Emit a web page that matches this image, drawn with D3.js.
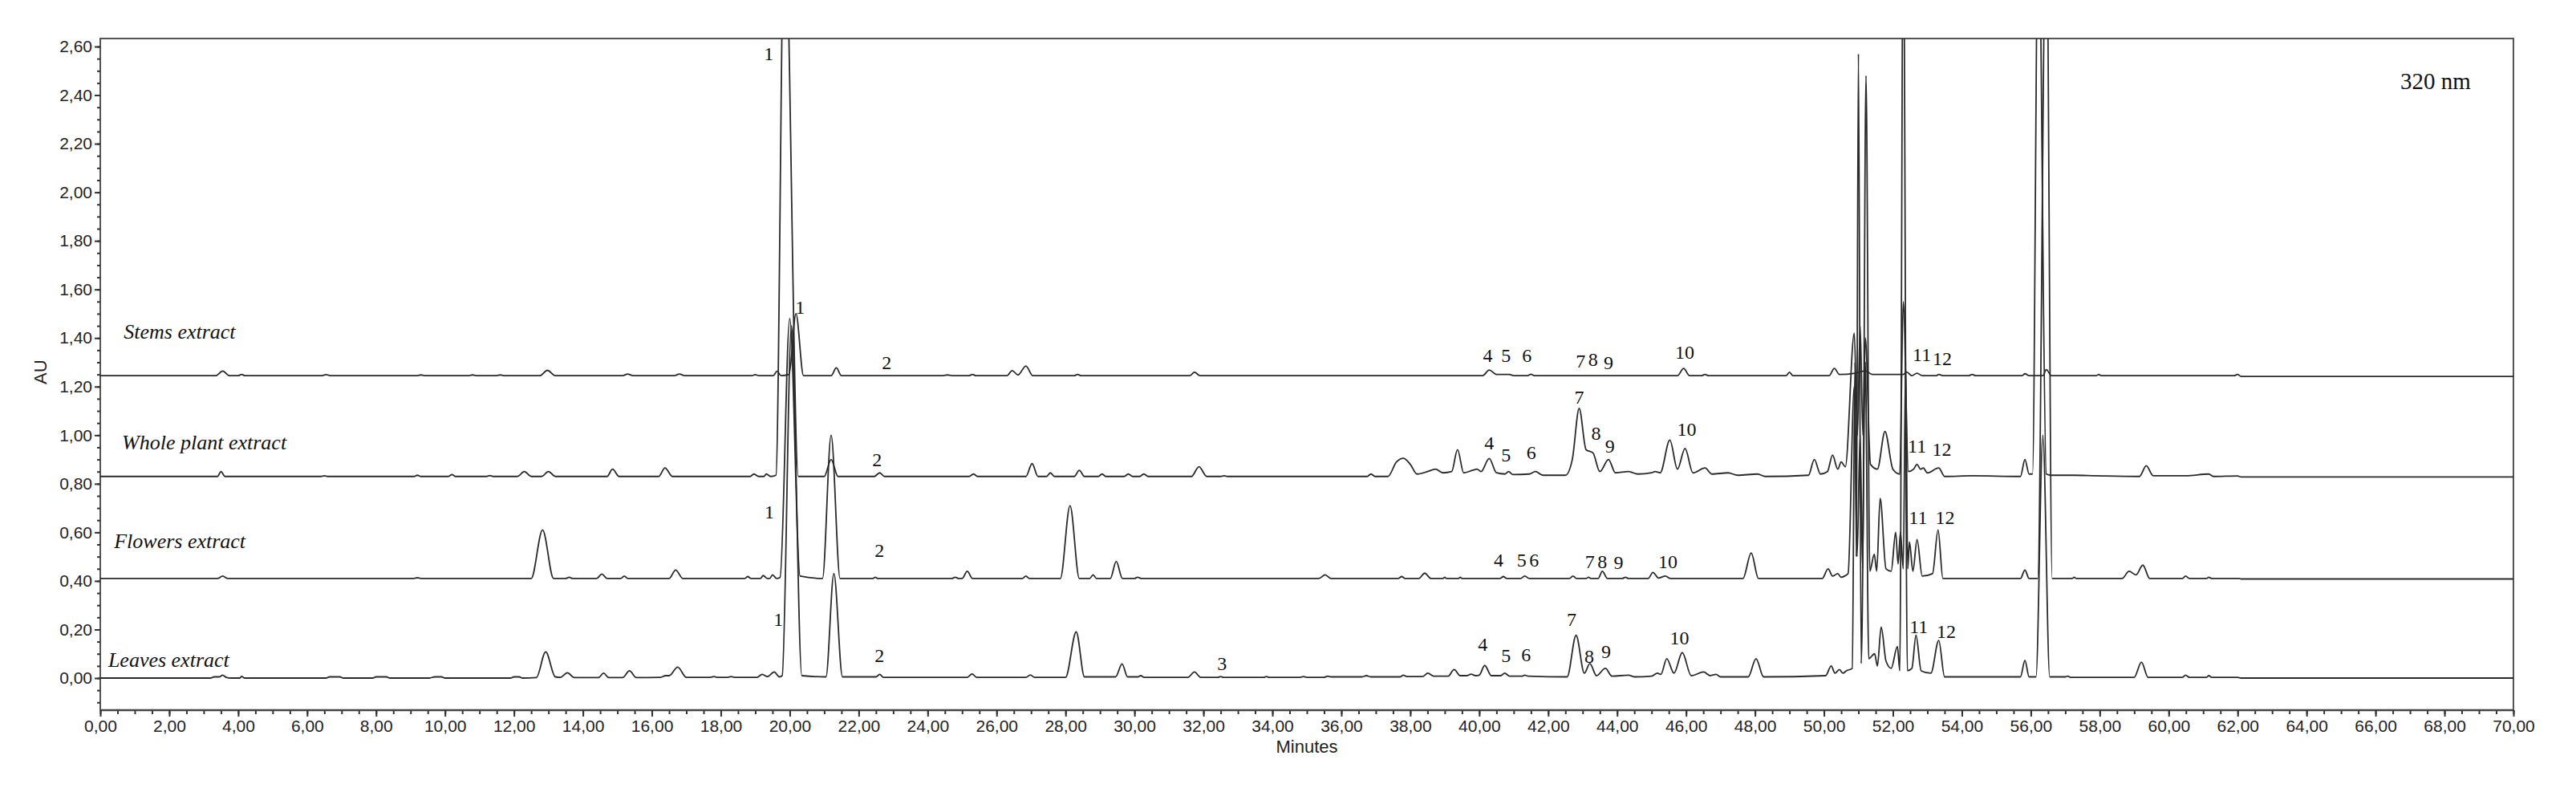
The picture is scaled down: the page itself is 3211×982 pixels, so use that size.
<!DOCTYPE html>
<html>
<head>
<meta charset="utf-8">
<script src="https://cdn.jsdelivr.net/npm/d3@7"></script>
<style>
  body { margin: 0; background: #fff; }
  .tick text { font-family: "Liberation Sans", Arial, sans-serif; font-size: 21px; fill: #222; }
  .tick line { stroke: #333; stroke-width: 2; }
  .domain { stroke: #444; stroke-width: 2.5; }
  .trace { fill: none; stroke: #2a2a2a; stroke-width: 1.8; stroke-linejoin: round; }
  .name { font-family: "Liberation Serif", "Times New Roman", serif; font-style: italic; font-size: 26px; fill: #111; }
  .pk { font-family: "Liberation Serif", "Times New Roman", serif; font-size: 24px; fill: #111; }
</style>
</head>
<body>
<div id="chart"></div>
<script>
// chromatogram traces, [minutes, AU]
var stemsTrace = [[0,1.245],[3.35,1.245],[3.55,1.264],[3.75,1.245],[4.0,1.245],[4.1,1.25],[4.2,1.245],[6.4,1.245],[6.55,1.249],[6.7,1.245],[9.2,1.245],[9.3,1.248],[9.4,1.245],[10.7,1.245],[10.8,1.248],[10.9,1.245],[11.5,1.245],[11.6,1.248],[11.7,1.245],[12.75,1.245],[12.97,1.267],[13.2,1.245],[15.15,1.245],[15.3,1.252],[15.45,1.245],[16.65,1.245],[16.8,1.252],[16.95,1.245],[18.9,1.245],[19.0,1.249],[19.1,1.245],[19.52,1.245],[19.63,1.263],[19.75,1.245],[19.98,1.25],[20.18,1.5],[20.4,1.245],[21.2,1.245],[21.35,1.277],[21.5,1.245],[24.45,1.245],[24.57,1.248],[24.7,1.245],[25.2,1.245],[25.3,1.25],[25.4,1.245],[26.3,1.245],[26.45,1.266],[26.62,1.248],[26.85,1.285],[27.05,1.245],[28.25,1.245],[28.35,1.25],[28.45,1.245],[31.6,1.245],[31.74,1.259],[31.9,1.245],[40.1,1.245],[40.29,1.268],[40.5,1.25],[40.87,1.25],[41.0,1.245],[41.4,1.245],[41.5,1.251],[41.6,1.245],[45.75,1.245],[45.93,1.275],[46.1,1.245],[46.45,1.245],[46.55,1.25],[46.65,1.245],[48.9,1.245],[49.0,1.259],[49.1,1.245],[50.15,1.245],[50.3,1.275],[50.45,1.25],[50.9,1.255],[51.2,1.265],[51.4,1.25],[52.3,1.25],[52.4,1.26],[52.55,1.245],[52.7,1.255],[52.85,1.245],[53.25,1.245],[53.33,1.25],[53.45,1.245],[54.2,1.245],[54.3,1.25],[54.4,1.245],[55.75,1.245],[55.83,1.253],[55.95,1.245],[56.35,1.245],[56.45,1.27],[56.6,1.245],[57.9,1.245],[57.97,1.25],[58.05,1.245],[61.9,1.245],[62.0,1.25],[62.1,1.242],[70,1.242]];

var wholeTrace = [[0,0.83],[3.4,0.83],[3.5,0.85],[3.62,0.83],[6.4,0.83],[6.5,0.833],[6.6,0.83],[9.1,0.83],[9.2,0.835],[9.3,0.83],[10.1,0.83],[10.2,0.838],[10.3,0.83],[11.2,0.83],[11.3,0.834],[11.4,0.83],[12.1,0.83],[12.3,0.85],[12.5,0.83],[12.8,0.83],[13.0,0.85],[13.2,0.83],[14.7,0.83],[14.86,0.86],[15.05,0.83],[16.2,0.83],[16.38,0.865],[16.6,0.83],[18.85,0.83],[18.96,0.84],[19.1,0.83],[19.25,0.83],[19.32,0.84],[19.45,0.83],[19.6,0.835],[19.85,3.2],[20.25,0.83],[21.0,0.83],[21.2,0.9],[21.4,0.83],[22.45,0.83],[22.61,0.845],[22.75,0.83],[25.2,0.83],[25.33,0.84],[25.45,0.83],[26.85,0.83],[27.03,0.883],[27.2,0.83],[27.45,0.83],[27.56,0.845],[27.68,0.83],[28.25,0.83],[28.4,0.855],[28.55,0.83],[28.95,0.83],[29.06,0.84],[29.17,0.83],[29.7,0.83],[29.82,0.84],[29.95,0.83],[30.15,0.83],[30.27,0.84],[30.4,0.83],[31.65,0.83],[31.87,0.87],[32.1,0.83],[32.5,0.83],[32.6,0.833],[32.7,0.83],[36.75,0.83],[36.86,0.84],[36.98,0.83],[37.35,0.83],[37.6,0.89],[37.8,0.905],[38.0,0.88],[38.2,0.84],[38.5,0.85],[38.73,0.86],[38.95,0.845],[39.2,0.85],[39.37,0.94],[39.55,0.845],[39.8,0.855],[39.94,0.86],[40.05,0.85],[40.29,0.904],[40.5,0.845],[40.75,0.84],[40.85,0.85],[40.98,0.838],[41.45,0.84],[41.63,0.85],[41.85,0.835],[42.5,0.835],[42.7,0.9],[42.9,1.11],[43.1,0.94],[43.3,0.927],[43.5,0.85],[43.75,0.9],[43.95,0.845],[44.33,0.85],[44.6,0.84],[45.0,0.845],[45.1,0.85],[45.25,0.845],[45.53,0.98],[45.75,0.86],[45.97,0.945],[46.2,0.845],[46.55,0.865],[46.75,0.84],[47.22,0.845],[47.5,0.835],[48.07,0.84],[48.3,0.83],[49.55,0.835],[49.72,0.9],[49.9,0.84],[50.1,0.85],[50.25,0.918],[50.4,0.86],[50.5,0.89],[50.62,0.87],[50.88,1.42],[50.97,1.0],[51.05,1.45],[51.13,1.0],[51.2,1.4],[51.35,0.88],[51.55,0.86],[51.77,1.015],[52.0,0.86],[52.2,0.84],[52.3,1.55],[52.45,0.85],[52.6,0.86],[52.7,0.88],[52.8,0.86],[52.88,0.865],[53.0,0.845],[53.33,0.865],[53.5,0.83],[54.3,0.833],[55.7,0.83],[55.83,0.9],[55.95,0.84],[56.05,0.84],[56.22,3.2],[56.45,0.84],[56.6,0.835],[57.26,0.835],[57.88,0.833],[59.15,0.83],[59.35,0.874],[59.55,0.833],[60.5,0.833],[61.16,0.84],[61.3,0.83],[62.0,0.832],[62.1,0.828],[70,0.828]];

var flowersTrace = [[0,0.41],[3.4,0.41],[3.55,0.42],[3.7,0.41],[9.1,0.41],[9.2,0.413],[9.3,0.41],[12.5,0.41],[12.83,0.61],[13.15,0.41],[13.5,0.41],[13.6,0.415],[13.7,0.41],[14.4,0.41],[14.55,0.428],[14.7,0.41],[15.1,0.41],[15.2,0.42],[15.3,0.41],[16.5,0.41],[16.69,0.445],[16.9,0.41],[18.7,0.41],[18.78,0.418],[18.88,0.41],[19.15,0.41],[19.23,0.422],[19.35,0.41],[19.42,0.41],[19.5,0.425],[19.62,0.41],[19.72,0.415],[20.0,1.48],[20.3,0.42],[20.95,0.41],[21.2,1.0],[21.46,0.41],[22.4,0.41],[22.48,0.415],[22.56,0.41],[24.7,0.41],[24.8,0.415],[24.9,0.41],[25.0,0.41],[25.15,0.44],[25.3,0.41],[26.75,0.41],[26.85,0.42],[26.95,0.41],[27.85,0.41],[28.13,0.71],[28.4,0.41],[28.7,0.41],[28.8,0.425],[28.9,0.41],[29.3,0.41],[29.47,0.48],[29.65,0.41],[30.0,0.41],[30.09,0.415],[30.2,0.41],[35.35,0.41],[35.53,0.425],[35.7,0.41],[37.65,0.41],[37.75,0.418],[37.85,0.41],[38.25,0.41],[38.42,0.432],[38.6,0.41],[38.95,0.41],[39.0,0.415],[39.05,0.41],[39.4,0.41],[39.45,0.415],[39.5,0.41],[40.6,0.41],[40.7,0.418],[40.8,0.41],[41.2,0.41],[41.32,0.42],[41.45,0.41],[42.62,0.41],[42.72,0.42],[42.82,0.41],[43.1,0.41],[43.17,0.415],[43.25,0.41],[43.45,0.41],[43.57,0.44],[43.72,0.41],[44.15,0.41],[44.24,0.415],[44.33,0.41],[44.9,0.41],[45.04,0.435],[45.2,0.412],[45.4,0.42],[45.55,0.41],[47.65,0.41],[47.89,0.515],[48.1,0.41],[49.95,0.41],[50.12,0.45],[50.25,0.42],[50.4,0.43],[50.5,0.415],[50.6,0.42],[50.7,0.43],[50.88,1.2],[50.96,0.5],[51.05,1.0],[51.12,0.45],[51.22,2.48],[51.33,0.44],[51.46,0.51],[51.53,0.44],[51.63,0.74],[51.8,0.45],[51.95,0.44],[52.08,0.6],[52.15,0.47],[52.22,0.6],[52.3,0.45],[52.37,1.3],[52.43,0.45],[52.48,0.56],[52.58,0.44],[52.7,0.57],[52.85,0.42],[53.15,0.43],[53.31,0.61],[53.45,0.41],[55.7,0.41],[55.83,0.445],[55.95,0.41],[56.2,0.41],[56.45,3.2],[56.62,0.41],[57.2,0.41],[57.26,0.415],[57.32,0.41],[58.65,0.41],[58.85,0.44],[59.05,0.425],[59.25,0.465],[59.45,0.41],[60.4,0.41],[60.49,0.42],[60.6,0.41],[61.1,0.41],[61.16,0.415],[61.25,0.41],[62.05,0.41],[62.1,0.408],[70,0.408]];

var leavesTrace = [[0,0],[3.2,0],[3.3,0.005],[3.45,0.005],[3.55,0.012],[3.65,0.003],[3.8,0],[4.05,0],[4.1,0.007],[4.18,0],[6.55,0],[6.65,0.005],[6.95,0.005],[7.05,0],[7.9,0],[8.0,0.005],[8.3,0.005],[8.4,0],[9.55,0],[9.7,0.005],[9.9,0.005],[10.0,0],[11.9,0],[12.0,0.005],[12.15,0.005],[12.25,0],[12.65,0.002],[12.92,0.108],[13.2,0.005],[13.35,0.003],[13.55,0.022],[13.75,0.002],[14.45,0.002],[14.6,0.02],[14.75,0.002],[15.15,0.002],[15.35,0.03],[15.55,0.002],[16.25,0.003],[16.4,0.01],[16.5,0.01],[16.75,0.045],[17.0,0.003],[17.7,0.003],[17.8,0.006],[17.9,0.003],[18.2,0.003],[18.3,0.006],[18.4,0.003],[19.05,0.003],[19.2,0.015],[19.35,0.006],[19.55,0.025],[19.7,0.005],[19.78,0.01],[20.05,1.45],[20.35,0.01],[21.05,0.005],[21.28,0.43],[21.53,0.005],[22.5,0.005],[22.61,0.015],[22.72,0.003],[25.15,0.003],[25.29,0.017],[25.42,0.003],[26.85,0.003],[26.98,0.013],[27.1,0.003],[28.0,0.003],[28.31,0.19],[28.55,0.005],[29.45,0.005],[29.64,0.058],[29.8,0.005],[30.1,0.005],[30.18,0.01],[30.28,0.003],[31.55,0.003],[31.74,0.025],[31.92,0.003],[32.42,0.003],[32.5,0.006],[32.58,0.003],[33.75,0.003],[33.83,0.006],[33.9,0.003],[34.8,0.003],[34.9,0.006],[35.0,0.003],[35.5,0.003],[35.6,0.008],[35.7,0.005],[36.6,0.005],[36.73,0.01],[36.85,0.005],[37.7,0.005],[37.8,0.012],[37.9,0.006],[38.35,0.006],[38.51,0.02],[38.68,0.008],[39.1,0.008],[39.27,0.035],[39.45,0.01],[39.65,0.01],[39.76,0.016],[39.9,0.01],[40.0,0.012],[40.16,0.052],[40.35,0.01],[40.62,0.01],[40.74,0.02],[40.88,0.008],[41.25,0.008],[41.32,0.012],[41.42,0.008],[42.55,0.005],[42.81,0.176],[43.05,0.02],[43.21,0.06],[43.4,0.01],[43.66,0.04],[43.85,0.008],[44.33,0.012],[44.5,0.005],[45.0,0.008],[45.17,0.02],[45.27,0.015],[45.44,0.08],[45.65,0.02],[45.89,0.105],[46.15,0.01],[46.51,0.025],[46.7,0.01],[46.87,0.015],[47.0,0.005],[47.8,0.005],[48.03,0.08],[48.25,0.005],[50.05,0.01],[50.21,0.05],[50.32,0.02],[50.45,0.035],[50.55,0.02],[50.65,0.03],[50.82,0.04],[50.9,1.3],[50.94,0.5],[51.0,2.57],[51.08,0.06],[51.2,1.3],[51.3,0.08],[51.47,0.1],[51.55,0.05],[51.66,0.21],[51.8,0.07],[51.95,0.04],[52.13,0.13],[52.2,0.03],[52.3,3.2],[52.42,0.03],[52.55,0.04],[52.67,0.176],[52.82,0.03],[53.1,0.02],[53.33,0.155],[53.5,0.005],[55.7,0.005],[55.83,0.073],[55.95,0.005],[56.15,0.005],[56.35,1.0],[56.55,0.005],[57.0,0.005],[57.07,0.008],[57.15,0.003],[59.0,0.003],[59.21,0.066],[59.4,0.003],[60.4,0.003],[60.49,0.012],[60.6,0.003],[61.1,0.003],[61.16,0.01],[61.25,0.003],[62.0,0.003],[62.1,0],[70,0]];

var traceNames = ["Stems extract", "Whole plant extract", "Flowers extract", "Leaves extract"];
// where each name sits, [minutes, AU]
var nameSpots = [[0.68,1.427],[0.63,0.968],[0.40,0.562],[0.23,0.076]];

// peak numbers, [label, minutes, AU]
var stemsPeaks = [["1",20.3,1.526],["2",22.81,1.30],["4",40.25,1.328],["5",40.78,1.328],["6",41.38,1.328],["7",42.94,1.305],["8",43.3,1.31],["9",43.75,1.30],["10",45.96,1.34],["11",52.84,1.33],["12",53.43,1.315]];
var wholePeaks = [["1",19.39,2.57],["2",22.53,0.90],["4",40.29,0.968],["5",40.78,0.918],["6",41.51,0.93],["7",42.9,1.156],["8",43.39,1.008],["9",43.79,0.955],["10",46.02,1.024],["11",52.7,0.955],["12",53.42,0.94]];
var flowersPeaks = [["1",19.41,0.685],["2",22.6,0.525],["4",40.56,0.485],["5",41.23,0.485],["6",41.59,0.485],["7",43.21,0.48],["8",43.57,0.48],["9",44.04,0.475],["10",45.47,0.48],["11",52.73,0.66],["12",53.51,0.66]];
var leavesPeaks = [["1",19.67,0.24],["2",22.6,0.093],["3",32.54,0.06],["4",40.1,0.139],["5",40.78,0.093],["6",41.36,0.095],["7",42.68,0.24],["8",43.19,0.09],["9",43.68,0.11],["10",45.81,0.165],["11",52.75,0.21],["12",53.55,0.19]];

var yTicks = [0,0.2,0.4,0.6,0.8,1.0,1.2,1.4,1.6,1.8,2.0,2.2,2.4,2.6];
var xTicks = d3.range(0, 71, 2);

var W = 3211, H = 982;
var pLeft = 125, pRight = 3133, pTop = 48, pBottom = 885;

var svg = d3.select("#chart").append("svg").attr("width", W).attr("height", H);

var x = d3.scaleLinear().domain([0, 70]).range([pLeft, pRight]);
var y = d3.scaleLinear().domain([-0.1321, 2.633]).range([pBottom, pTop]);

svg.append("defs").append("clipPath").attr("id", "plot")
    .append("rect").attr("x", pLeft).attr("y", pTop).attr("width", pRight - pLeft).attr("height", pBottom - pTop);

// frame
svg.append("rect").attr("x", pLeft).attr("y", pTop).attr("width", pRight - pLeft).attr("height", pBottom - pTop)
    .attr("fill", "none").attr("stroke", "#555").attr("stroke-width", 2);

var comma = function (d) { return d.toFixed(2).replace(".", ","); };

// minor ticks
svg.append("g").attr("transform", "translate(" + pLeft + ",0)")
    .call(d3.axisLeft(y).tickValues(d3.range(-0.1, 2.61, 0.05)).tickSize(4).tickFormat(""))
    .call(g => g.select(".domain").remove());
svg.append("g").attr("transform", "translate(0," + pBottom + ")")
    .call(d3.axisBottom(x).tickValues(d3.range(0, 70.01, 0.5)).tickSize(5).tickFormat(""))
    .call(g => g.select(".domain").remove());

var yAxis = svg.append("g").attr("transform", "translate(" + pLeft + ",0)")
    .call(d3.axisLeft(y).tickValues(yTicks).tickSize(7).tickPadding(3).tickFormat(comma));
yAxis.select(".domain").remove();

var xAxis = svg.append("g").attr("transform", "translate(0," + pBottom + ")")
    .call(d3.axisBottom(x).tickValues(xTicks).tickSize(8).tickPadding(4).tickFormat(comma));
xAxis.select(".domain").attr("d", "M" + pLeft + ",0H" + pRight);

svg.append("text").attr("x", (pLeft + pRight) / 2).attr("y", 938)
    .attr("text-anchor", "middle")
    .style("font-family", "Liberation Sans, Arial, sans-serif").style("font-size", "22px").style("fill", "#222")
    .text("Minutes");

svg.append("text").attr("transform", "translate(58," + y(1.26) + ") rotate(-90)")
    .attr("text-anchor", "middle")
    .style("font-family", "Liberation Sans, Arial, sans-serif").style("font-size", "22px").style("fill", "#222")
    .text("AU");

svg.append("text").attr("x", x(66.72)).attr("y", y(2.458))
    .attr("dominant-baseline", "central")
    .style("font-family", "Liberation Serif, Times New Roman, serif").style("font-size", "29px").style("fill", "#111")
    .text("320 nm");

var line = d3.line().x(d => x(d[0])).y(d => y(d[1])).curve(d3.curveMonotoneX);
var traces = [stemsTrace, wholeTrace, flowersTrace, leavesTrace];

svg.append("g").attr("clip-path", "url(#plot)")
    .selectAll("path").data(traces).enter().append("path")
    .attr("class", "trace")
    .attr("d", line);

svg.selectAll(".name").data(traceNames).enter().append("text")
    .attr("class", "name")
    .attr("x", (d, i) => x(nameSpots[i][0]))
    .attr("y", (d, i) => y(nameSpots[i][1]))
    .attr("dominant-baseline", "central")
    .text(d => d);

var allPeaks = [].concat(stemsPeaks, wholePeaks, flowersPeaks, leavesPeaks);
svg.selectAll(".pk").data(allPeaks).enter().append("text")
    .attr("class", "pk")
    .attr("x", d => x(d[1]))
    .attr("y", d => y(d[2]))
    .attr("text-anchor", "middle")
    .attr("dominant-baseline", "central")
    .text(d => d[0]);
</script>
</body>
</html>
